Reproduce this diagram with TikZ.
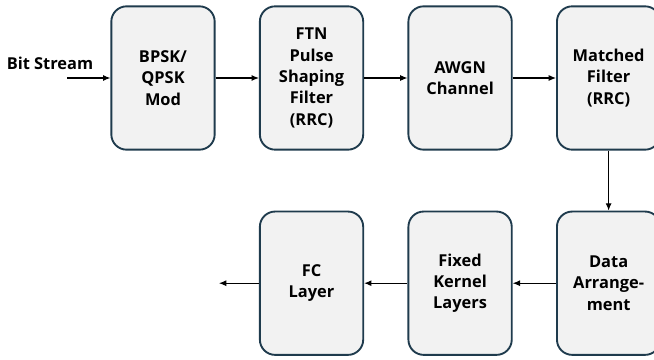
\documentclass[tikz,border=0pt]{standalone}
\usepackage{fontspec}
\setmainfont{Open Sans}
\usepackage{tikz}
\usetikzlibrary{arrows.meta, positioning}

\definecolor{boxline}{HTML}{1F3B4D}
\definecolor{boxfill}{HTML}{F2F2F2}

\tikzset{
  blockbox/.style={draw=boxline, fill=boxfill, line width=1.6pt, rounded corners=13pt,
    minimum width=3.1cm, minimum height=4.3cm, align=center,
    font=\fontsize{14}{18.3}\selectfont\bfseries},
  flow/.style={-{Latex[length=2.2mm,width=1.8mm]}, line width=0.9pt}
}

\begin{document}
\begin{tikzpicture}
  \useasboundingbox (0,0) rectangle (19.62,-10.8);

  % Top row
  \node[blockbox] (mod) at (4.89,-2.34) {BPSK/\\QPSK\\Mod};
  \node[blockbox, right=1.3cm of mod] (ftn) {FTN\\Pulse\\Shaping\\Filter\\(RRC)};
  \node[blockbox, right=1.3cm of ftn] (awgn) {AWGN\\Channel};
  \node[blockbox, right=1.3cm of awgn] (mf) {Matched\\Filter\\(RRC)};

  % Bottom row
  \node[blockbox, below=1.8cm of mf] (arr) {Data\\Arrange-\\ment};
  \node[blockbox, left=1.3cm of arr] (fk) {Fixed\\Kernel\\Layers};
  \node[blockbox, left=1.3cm of fk] (fc) {FC\\Layer};

  % Input and output
  \coordinate[left=1.29cm of mod.west] (in);
  \coordinate[left=1.2cm of fc.west] (out);
  \node[font=\fontsize{14}{18.3}\selectfont\bfseries] (bits) at (1.5,-1.89) {Bit Stream};

  % Connections
  \draw[flow] (in) -- (mod);
  \draw[flow] (mod) -- (ftn);
  \draw[flow] (ftn) -- (awgn);
  \draw[flow] (awgn) -- (mf);
  \draw[flow] (mf) -- (arr);
  \draw[flow] (arr) -- (fk);
  \draw[flow] (fk) -- (fc);
  \draw[flow] (fc) -- (out);
\end{tikzpicture}
\end{document}
